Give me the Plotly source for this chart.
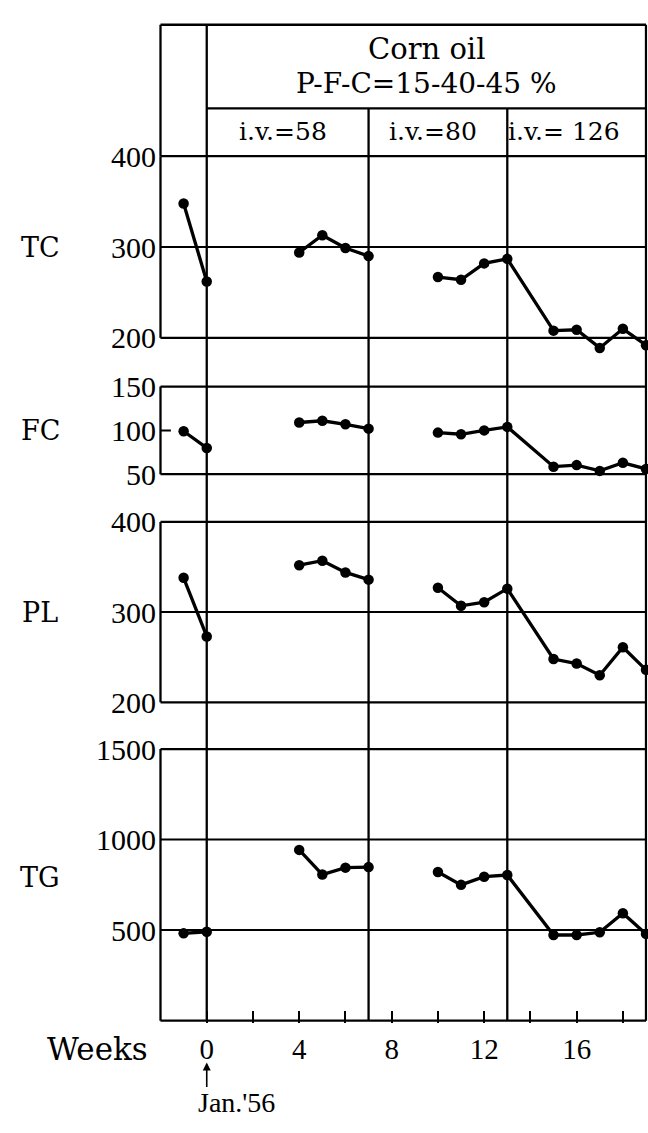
import plotly.graph_objects as go

# ---------------- data ----------------
weeks = [-1, 0, 4, 5, 6, 7, 10, 11, 12, 13, 15, 16, 17, 18, 19]
tc = [348, 262, 294, 313, 299, 290, 267, 264, 282, 287, 208, 209, 189, 210, 192]
fc = [99, 80, 109, 111, 107, 102, 97.5, 95.6, 100, 104, 58.6, 60.4, 53.8, 63, 56]
pl = [338, 273, 352, 357, 344, 336, 327, 307, 311, 326, 248, 243, 230, 261, 236]
tg = [482, 491, 943, 807, 845, 848, 821, 750, 795, 804, 473, 473, 488, 593, 479]
gap_after_weeks = [0, 7]          # line is interrupted after these weeks

panel_labels = ["TC", "FC", "PL", "TG"]
panel_values = [tc, fc, pl, tg]
panel_limits = [(200, 400), (50, 150), (200, 400), (0, 1500)]
panel_ticks = [[200, 300, 400], [50, 100, 150], [200, 300, 400], [500, 1000, 1500]]
panel_grid = [[300], [], [300], [500, 1000]]
panel_label_y = [300, 100, 300, 790]

diet_title = ["Corn oil", "P-F-C=15-40-45 %"]
period_bounds = [0, 7, 13, 19]
iv_labels = ["i.v.=58", "i.v.=80", "i.v.= 126"]
iv_label_x = [3.3, 9.8, 15.45]

x_limits = (-2, 19)
x_tickvals = [0, 2, 4, 6, 8, 10, 12, 14, 16, 18]
x_labelled = [0, 4, 8, 12, 16]
x_axis_title = "Weeks"
start_note = "Jan.'56"

# ---------------- layout geometry (screen pixels) ----------------
W, H = 648, 1133
frame_px = [(145, 331.7), (381.7, 471.7), (520.7, 706), (754, 1033)]
extra_low = [180, None, None, None]
x_left_px, x_right_px = 160.5, 646
header_top_px, header_sep_px = 10, 96
SERIF = "DejaVu Serif"
NUM = "Liberation Serif"
LW = 2.3


def py(px):
    return 1 - px / H


def pxx(px):
    return px / W


ppw = (x_right_px - x_left_px) / (x_limits[1] - x_limits[0])
xpad = 1.5
x_range = [x_limits[0] - xpad / ppw, x_limits[1] + xpad / ppw]
x_domain = [pxx(x_left_px - xpad), pxx(x_right_px + xpad)]

fig = go.Figure()
shapes = []
annotations = []

for i, (vals, (lo, hi), (top, bot)) in enumerate(zip(panel_values, panel_limits, frame_px)):
    n = i + 1
    xa = "x" if n == 1 else f"x{n}"
    ya = "y" if n == 1 else f"y{n}"
    ppu = (bot - top) / (hi - lo)
    pad = 2.0
    lo_ext = lo - pad / ppu
    if extra_low[i] is not None:
        lo_ext = min(lo_ext, extra_low[i])
    hi_ext = hi + pad / ppu
    dom_bot_px = bot + (lo - lo_ext) * ppu
    dom_top_px = top - pad

    xs, ys = [], []
    for w, v in zip(weeks, vals):
        xs.append(w)
        ys.append(v)
        if w in gap_after_weeks:
            xs.append(None)
            ys.append(None)
    fig.add_trace(go.Scatter(
        x=xs, y=ys, xaxis=xa, yaxis=ya, mode="lines+markers",
        line=dict(color="black", width=3.3),
        marker=dict(color="black", size=10.5),
        connectgaps=False, cliponaxis=False, showlegend=False,
        hoverinfo="skip"))

    is_bottom = (n == 4)
    xkey = "xaxis" if n == 1 else f"xaxis{n}"
    ykey = "yaxis" if n == 1 else f"yaxis{n}"
    xaxis = dict(domain=x_domain, range=x_range, anchor=ya, showgrid=False,
                 zeroline=False, showline=False, fixedrange=True)
    if is_bottom:
        xaxis.update(tickmode="array", tickvals=x_tickvals,
                     ticktext=[str(t) if t in x_labelled else "" for t in x_tickvals],
                     ticks="inside", ticklen=12, tickwidth=2, tickcolor="black",
                     tickfont=dict(family=NUM, size=29, color="black"),
                     ticklabelstandoff=6)
    else:
        xaxis.update(showticklabels=False, ticks="")
    yaxis = dict(domain=[py(dom_bot_px), py(dom_top_px)], range=[lo_ext, hi_ext],
                 anchor=xa, showgrid=False, zeroline=False, showline=False,
                 tickmode="array", tickvals=panel_ticks[i],
                 tickfont=dict(family=NUM, size=30, color="black"),
                 ticks="", fixedrange=True, ticklabelstandoff=2)
    fig.update_layout({xkey: xaxis, ykey: yaxis})

    line = dict(color="black", width=LW)
    shapes.append(dict(type="line", xref=xa, yref=ya, x0=x_limits[0], x1=x_limits[1], y0=hi, y1=hi, line=line, layer="below"))
    shapes.append(dict(type="line", xref=xa, yref=ya, x0=x_limits[0], x1=x_limits[1], y0=lo, y1=lo, line=line, layer="below"))
    shapes.append(dict(type="line", xref=xa, yref=ya, x0=x_limits[0], x1=x_limits[0], y0=lo, y1=hi, line=line, layer="below"))
    for g in panel_grid[i]:
        shapes.append(dict(type="line", xref=xa, yref=ya, x0=x_limits[0], x1=x_limits[1], y0=g, y1=g,
                           line=dict(color="black", width=2), layer="below"))
    if panel_labels[i] == "FC":
        shapes.append(dict(type="line", xref=xa, yref=ya, x0=x_limits[0], x1=x_limits[0] + 0.45,
                           y0=100, y1=100, line=dict(color="black", width=2), layer="below"))

    annotations.append(dict(text=panel_labels[i], xref="paper", yref=ya, x=pxx(40), y=panel_label_y[i],
                            showarrow=False, xanchor="center", yanchor="middle",
                            font=dict(family=SERIF, size=27, color="black")))

# continuous vertical lines
line = dict(color="black", width=LW)
bottom_px = frame_px[-1][1]
for xb in period_bounds:
    top_px = header_top_px if xb in (period_bounds[0], period_bounds[-1]) else header_sep_px
    shapes.append(dict(type="line", xref="x4", yref="paper", x0=xb, x1=xb,
                       y0=py(bottom_px), y1=py(top_px), line=line, layer="below"))
# header box
shapes.append(dict(type="line", xref="x4", yref="paper", x0=x_limits[0], x1=x_limits[1],
                   y0=py(header_top_px), y1=py(header_top_px), line=line, layer="below"))
shapes.append(dict(type="line", xref="x4", yref="paper", x0=x_limits[0], x1=x_limits[0],
                   y0=py(frame_px[0][0]), y1=py(header_top_px), line=line, layer="below"))
shapes.append(dict(type="line", xref="x4", yref="paper", x0=period_bounds[0], x1=period_bounds[-1],
                   y0=py(header_sep_px), y1=py(header_sep_px), line=line, layer="below"))

# header texts
mid = (period_bounds[0] + period_bounds[-1]) / 2
annotations.append(dict(text=diet_title[0], xref="x4", yref="paper", x=mid, y=py(35), showarrow=False,
                        xanchor="center", yanchor="middle",
                        font=dict(family=SERIF, size=29, color="black")))
annotations.append(dict(text=diet_title[1], xref="x4", yref="paper", x=mid, y=py(70), showarrow=False,
                        xanchor="center", yanchor="middle",
                        font=dict(family=SERIF, size=28, color="black")))
for lab, xc in zip(iv_labels, iv_label_x):
    annotations.append(dict(text=lab, xref="x4", yref="paper", x=xc, y=py(120), showarrow=False,
                            xanchor="center", yanchor="middle",
                            font=dict(family=SERIF, size=25, color="black")))

annotations.append(dict(text=x_axis_title, xref="paper", yref="paper", x=pxx(97), y=py(1062),
                        showarrow=False, xanchor="center", yanchor="middle",
                        font=dict(family=SERIF, size=31, color="black")))
annotations.append(dict(text="", xref="x4", yref="paper", x=0, y=py(1076), ax=0, ay=26,
                        showarrow=True, arrowhead=2, arrowsize=1, arrowwidth=1.6, arrowcolor="black"))
annotations.append(dict(text=start_note, xref="paper", yref="paper", x=pxx(236), y=py(1117),
                        showarrow=False, xanchor="center", yanchor="middle",
                        font=dict(family=NUM, size=28, color="black")))

fig.update_layout(width=W, height=H, margin=dict(l=0, r=0, t=0, b=0),
                  paper_bgcolor="white", plot_bgcolor="rgba(0,0,0,0)",
                  shapes=shapes, annotations=annotations, showlegend=False)

fig.write_html("out.html", config={"displayModeBar": False},
               post_script="document.body.style.margin='0px';document.body.style.overflow='hidden';")
